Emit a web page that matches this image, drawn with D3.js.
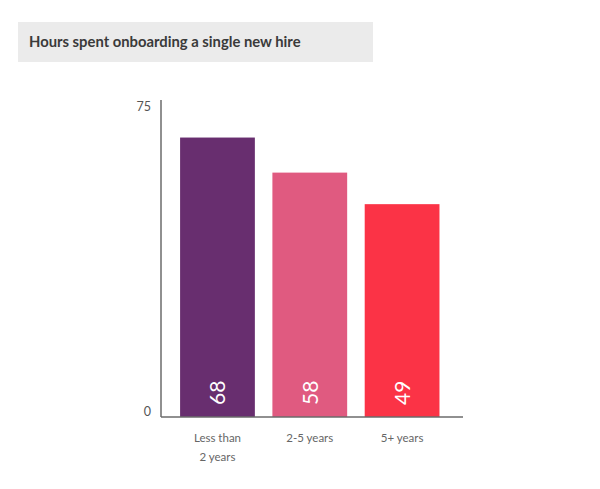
<!DOCTYPE html>
<html>
<head>
<meta charset="utf-8">
<script src="https://cdn.jsdelivr.net/npm/d3@7"></script>
<style>
  body { margin: 0; background: #fff; }
  svg { display: block; font-family: Lato, "Open Sans", sans-serif; }
</style>
</head>
<body>
<div id="chart"></div>
<script>

// chart data
var title = "Hours spent onboarding a single new hire";
var categories = [["Less than", "2 years"], ["2-5 years"], ["5+ years"]];
var hours = [68, 58, 49];
var barColors = ["#682e6f", "#e05a80", "#fb3346"];
var tickLabels = ["0", "75"];

var width = 600, height = 489;

var svg = d3.select("#chart").append("svg")
  .attr("width", width)
  .attr("height", height);

// title banner
svg.append("rect")
  .attr("x", 18)
  .attr("y", 22)
  .attr("width", 355)
  .attr("height", 40)
  .attr("fill", "#ebebeb")

svg.append("text")
  .attr("x", 29)
  .attr("y", 47)
  .attr("font-size", 14.8)
  .attr("font-weight", 700)
  .attr("fill", "#3a3a3a")
  .text(title)

var baseY = 417, axisX = 161;

// the original does not start its bars at zero, keep its proportions
var y = d3.scaleLinear()
  .domain([-11.7, 75])
  .range([baseY, 113]);

var x = d3.scaleBand()
  .domain(d3.range(hours.length))
  .range([axisX, 461])
  .paddingInner(0.19)
  .paddingOuter(0.22)
  .align(0.47);

var bars = svg.append("g").attr("id", "bars");

bars.selectAll("rect")
  .data(hours)
  .join("rect")
    .attr("x", function(d, i) { return x(i); })
    .attr("width", x.bandwidth())
    .attr("y", function(d) { return y(d); })
    .attr("height", function(d) { return baseY - y(d); })
    .attr("fill", function(d, i) { return barColors[i]; })

// value labels, rotated inside the bars
bars.selectAll("text")
  .data(hours)
  .join("text")
    .attr("transform", function(d, i) {
      return "translate(" + (x(i) + x.bandwidth() / 2 + 8) + "," + (baseY - 12) + ") rotate(-90)";
    })
    .attr("font-size", 21)
    .attr("fill", "#ffffff")
    .text(function(d) { return d; })

// axes lines
svg.append("line")
  .attr("x1", axisX).attr("x2", axisX)
  .attr("y1", 100).attr("y2", baseY)
  .attr("stroke", "#6b6b6b")
  .attr("stroke-width", 1.5)

svg.append("line")
  .attr("x1", axisX).attr("x2", 463)
  .attr("y1", baseY).attr("y2", baseY)
  .attr("stroke", "#6b6b6b")
  .attr("stroke-width", 1.5)

// y tick labels: bottom of axis and the 75 mark
var tickY = [baseY - 5, y(75) - 6];
svg.selectAll(".tick-label")
  .data(tickLabels)
  .join("text")
    .attr("class", "tick-label")
    .attr("x", 151)
    .attr("y", function(d, i) { return tickY[i]; })
    .attr("dy", "0.35em")
    .attr("text-anchor", "end")
    .attr("font-size", 12.5)
    .attr("fill", "#555")
    .text(function(d) { return d; })

// category labels
var cat = svg.selectAll(".cat")
  .data(categories)
  .join("text")
    .attr("class", "cat")
    .attr("text-anchor", "middle")
    .attr("font-size", 11.5)
    .attr("fill", "#666")

cat.selectAll("tspan")
  .data(function(d, i) { return d.map(function(s) { return { s: s, i: i }; }); })
  .join("tspan")
    .attr("x", function(d) { return x(d.i) + x.bandwidth() / 2; })
    .attr("y", function(d, j) { return 442 + j * 19; })
    .text(function(d) { return d.s; })

</script>
</body>
</html>
